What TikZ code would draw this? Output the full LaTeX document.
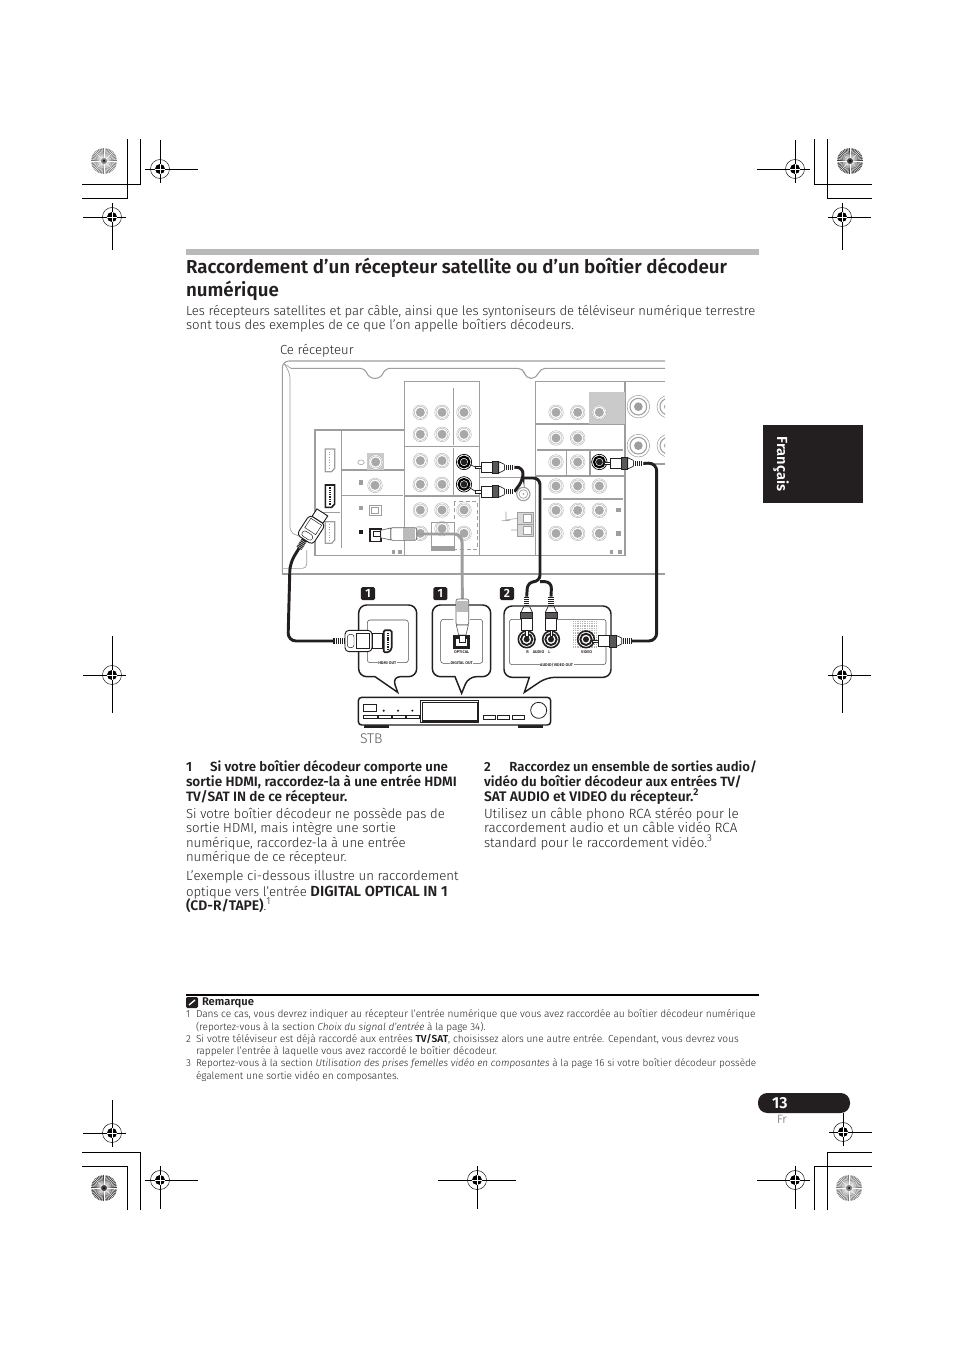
\documentclass[tikz,border=0pt]{standalone}
\usepackage{fontspec}
\setmainfont{Fira Sans Light}[BoldFont={Fira Sans SemiBold},ItalicFont={Fira Sans Light Italic}]
\definecolor{ink}{HTML}{231F20}
\definecolor{pg}{gray}{0.62}
\newcommand\fs[1]{\fontsize{#1}{12}\selectfont}
\tikzset{
  txt/.style={anchor=base west,inner sep=0pt,outer sep=0pt,text=ink},
  body/.style={txt,font=\fs{9.85}},
  bodyb/.style={txt,font=\fs{10.17}\bfseries},
  head/.style={txt,font=\fs{14.05}\bfseries},
  fn/.style={txt,font=\fs{7.6}},
  tiny/.style={inner sep=0.4pt,fill=white,text=ink,font=\fontsize{3}{3}\selectfont\bfseries},
  panel/.style={draw=pg,line width=.8pt},
  cable/.style={draw=ink,line width=2.2pt,rounded corners=6pt},
  crop/.style={draw=black,line width=.65pt},
  bub/.style={draw=ink,line width=1.1pt,fill=white},
  inbr/.style={draw=ink!80,line width=.4pt,rounded corners=2pt},
  dev/.style={draw=ink,line width=.8pt},
  zu/.style={shift={(275,350)},x=.25pt,y=-.25pt},
  zl/.style={shift={(280,580)},x=.25pt,y=-.25pt},
  badge/.style={fill=ink,text=white,rounded corners=1.2pt,minimum width=10.6pt,minimum height=9.8pt,inner sep=0pt,font=\fontsize{9}{9}\selectfont\bfseries},
}
\newcommand\regmark[7]{%
  \draw[crop] ({#2-#4},#3)--({#2+#5},#3) (#2,{#3-#6})--(#2,{#3+#7});
  \draw[line width=.35pt] (#2,#3) circle (9.5);
  \fill[black] (#2,#3) circle (5);
  \draw[white,line width=.3pt] ({#2-5},#3)--({#2+5},#3) (#2,{#3-5})--(#2,{#3+5});
  \coordinate (#1) at (#2,#3);}
\newcommand\wheel[3]{%
  \fill[#3] (#1,#2) circle (13);
  \foreach \a in {0,7.5,...,352.5}{\draw[white,line width=.28pt] ({#1+3*cos(\a)},{#2+3*sin(\a)})--({#1+13*cos(\a)},{#2+13*sin(\a)});}
  \fill[black] (#1,#2) circle (1);}
\newcommand\jack[2]{%
  \draw[pg!85,line width=.3pt,fill=white] (#1,#2) circle (22);
  \draw[pg!85,line width=.3pt] (#1,#2) circle (18);
  \fill[pg!90] (#1,#2) circle (13.5);}
\newcommand\bjack[2]{%
  \draw[black,line width=.5pt,fill=white] (#1,#2) circle (23);
  \draw[black,line width=1.6pt] (#1,#2) circle (16);
  \fill[ink] (#1,#2) circle (10);}
\newcommand\bigjack[2]{%
  \draw[pg,line width=.4pt,fill=white] (#1,#2) circle (34);
  \draw[pg,line width=.8pt] (#1,#2) circle (25);
  \fill[pg] (#1,#2) circle (13);}
\newcommand\rcaplug[3]{%
  \begin{scope}[shift={(#1,#2)},rotate=#3]
    \fill[ink] (0,-8) rectangle (30,8);
    \foreach \h in {4,10,...,28}{\draw[white,line width=.25pt] (\h,-8)--(\h,8);}
    \draw[ink,line width=.5pt,fill=white] (30,-9)--(47,-17)--(47,17)--(30,9)--cycle;
    \draw[ink,line width=.5pt,fill=ink!75] (47,-18) rectangle (66,18);
    \draw[ink,line width=.5pt,fill=white] (66,-16) rectangle (100,16);
    \draw[ink,line width=.4pt,fill=white] (100,-3.5) rectangle (118,3.5);
  \end{scope}}
\newcommand\optplug[3]{%
  \begin{scope}[shift={(#1,#2)},rotate=#3]
    \draw[ink!70,line width=.5pt,fill=white,rounded corners=1.5pt] (0,-19) rectangle (78,19);
    \fill[pg!70] (6,-18) rectangle (40,18);
    \draw[ink!70,line width=.5pt,fill=white] (78,-18)--(108,-11)--(108,11)--(78,18)--cycle;
    \draw[ink,line width=.5pt,fill=white] (108,-8) rectangle (130,8);
  \end{scope}}
\newcommand\hdmiplug[4]{%
  \begin{scope}[shift={(#1,#2)},rotate=#3,scale=#4]
    \fill[ink] (0,-10) rectangle (35,10);
    \foreach \h in {4,10,...,32}{\draw[white,line width=.25pt] (\h,-10)--(\h,10);}
    \draw[ink,line width=.7pt,fill=white,rounded corners=3pt] (35,-32) rectangle (116,32);
    \draw[ink,line width=.35pt,rounded corners=2pt] (42,-20) rectangle (62,20);
    \draw[ink,line width=.35pt] (70,-22) rectangle (108,22);
    \draw[ink,line width=.7pt,fill=white] (116,-22) rectangle (146,22);
  \end{scope}}
\begin{document}
\begin{tikzpicture}[x=.75pt,y=-.75pt]
\useasboundingbox (0,0) rectangle (954,1351);
\fill[white] (0,0) rectangle (954,1351);
% ---------- crop marks
\draw[crop] (82,184)--(140,184)--(140,139) (82,198)--(127,198)--(127,139);
\draw[crop] (872,184)--(814,184)--(814,139) (872,198)--(827,198)--(827,139);
\draw[crop] (82,1152)--(140,1152)--(140,1210) (82,1166)--(127,1166)--(127,1210);
\draw[crop] (872,1152)--(827,1152)--(827,1210) (872,1166)--(814,1166)--(814,1210);
\regmark{r1}{160}{169}{15}{38}{29}{14}
\regmark{r2}{112}{217}{29}{14}{14}{33}
\regmark{r4}{795}{169}{38}{15}{29}{14}
\regmark{r5}{842}{217}{14}{29}{14}{33}
\regmark{r6}{112}{675}{29}{14}{39}{38}
\regmark{r7}{842}{675}{14}{29}{39}{38}
\regmark{r8}{112}{1133}{29}{14}{33}{14}
\regmark{r9}{160}{1180}{15}{38}{14}{29}
\regmark{r10}{477}{1180}{39}{39}{14}{29}
\regmark{r11}{795}{1180}{38}{15}{14}{29}
\regmark{r12}{843}{1132}{14}{29}{19}{14}
\wheel{104}{161}{ink!60}
\wheel{850}{161}{ink!85}
\wheel{104}{1188}{ink!85}
\wheel{849}{1188}{ink!60}
% ---------- header and intro
\fill[gray!55] (186,249) rectangle (759,255);
\node[head] (h1) at (186,274) {Raccordement d’un récepteur satellite ou d’un boîtier décodeur};
\node[head] (h2) at (186,297) {numérique};
\node[body,font=\fs{9.77}] (i1) at (186,316) {Les récepteurs satellites et par câble, ainsi que les syntoniseurs de téléviseur numérique terrestre};
\node[body] (i2) at (186,330) {sont tous des exemples de ce que l’on appelle boîtiers décodeurs.};
\node[body] (ce) at (280,354) {Ce récepteur};
% ---------- tab
\fill[ink] (763,425) rectangle (862.5,502.7);
\node[anchor=center,inner sep=0pt,rotate=-90,text=white,font=\fontsize{11}{12}\selectfont\bfseries] (tab) at (781,464) {Français};
% ---------- receiver panel
\begin{scope}[zu]
  \draw[panel,rounded corners=5pt] (1170,33)--(22,33)--(22,672);
  \draw[panel] (22,672)--(1170,672);
  \draw[panel,line width=.5pt,rounded corners=4pt] (28,42)--(45,70)--(45,548)--(72,558);
  \draw[panel,line width=.5pt,rounded corners=3pt] (95,600)--(95,655)--(22,655);
  \draw[panel,line width=.5pt] (28,42)--(48,55);
  \draw[panel,rounded corners=4pt] (48,55)--(270,55)--(282,85)--(318,85)--(330,55)--(745,55)--(752,85)--(785,85)--(795,55)--(1170,55);
  \draw[panel] (120,240) rectangle (388,616);
  \draw[panel] (388,95) rectangle (614,616);
  \draw[panel] (782,95) rectangle (1050,616);
  \draw[panel] (614,616)--(782,616);
  \draw[panel] (614,383)--(782,383);
  \draw[panel] (1050,95)--(1170,95) (1050,342)--(1170,342);
  \draw[panel] (200,240)--(200,595) (200,360)--(388,360) (200,437)--(384,437) (120,487)--(195,487);
  \draw[panel] (535,115)--(535,285) (388,290)--(614,290) (535,295)--(535,435) (388,438)--(614,438);
  \draw[panel] (782,222)--(1050,222) (786,300)--(1045,300) (875,300)--(875,378) (945,300)--(945,378) (782,378)--(1050,378) (805,447)--(1045,447);
  \fill[pg!55] (942,126) rectangle (1050,222);
  \fill[pg!55] (277,310) rectangle (327,360);
  \foreach \x in {436,501,567}\foreach \y in {187,253}{\jack{\x}{\y}}
  \foreach \x in {436,501}\foreach \y in {332,403}{\jack{\x}{\y}}
  \foreach \x in {436,501,567}{\jack{\x}{480}}
  \jack{436}{550}\jack{501}{536}\jack{567}{550}
  \draw[panel,line width=.5pt] (470,517) rectangle (538,600);
  \fill[pg] (470,588) rectangle (538,600);
  \draw[panel,line width=.5pt,dash pattern=on 3pt off 2pt] (538,455) rectangle (608,598);
  \jack{302}{336}\jack{300}{406}
  \draw[panel,line width=.4pt] (258,337) ellipse (10 and 7);
  \fill[pg] (252,391) rectangle (265,404);
  \fill[pg] (252,467) rectangle (265,480);
  \fill[ink] (252,539) rectangle (265,552);
  \draw[panel,line width=.4pt] (283,465) rectangle (318,497);
  \draw[panel,line width=.4pt] (290,473) rectangle (310,490);
  \fill[pg] (350,600) rectangle (360,611);
  \fill[pg] (370,600) rectangle (380,611);
  % HDMI ports on the receiver
  \draw[panel,line width=.9pt,fill=white] (151,297)--(179,297)--(179,355)--(170,365)--(151,365)--cycle;
  \draw[pg,line width=.9pt,dash pattern=on .8pt off 1.2pt] (164,305)--(164,358);
  \draw[panel,line width=.9pt,fill=white] (151,515)--(179,515)--(179,570)--(170,580)--(151,580)--cycle;
  \draw[pg,line width=.9pt,dash pattern=on .8pt off 1.2pt] (164,522)--(164,573);
  \draw[ink,line width=1.2pt,fill=white] (151,405)--(179,405)--(179,462)--(170,472)--(151,472)--cycle;
  \draw[ink,line width=1.4pt,dash pattern=on 1pt off .7pt] (165,412)--(165,465);
  % optical port in use
  \draw[ink,line width=1pt,fill=white] (285,537) rectangle (318,575);
  % jacks, right block
  \foreach \x in {843,908,973}{\jack{\x}{187}}
  \foreach \x in {843,908}{\jack{\x}{264}\jack{\x}{336}}
  \foreach \x in {843,908,973}{\jack{\x}{408}\jack{\x}{481}\jack{\x}{550}}
  \fill[pg] (1024,474) rectangle (1037,487);
  \fill[pg] (1024,544) rectangle (1037,557);
  \fill[pg] (1004,600) rectangle (1015,611);
  \fill[pg] (1030,600) rectangle (1041,611);
  \bigjack{1090}{170}\bigjack{1090}{287}
  \begin{scope}
    \clip (1050,90) rectangle (1170,340);
    \bigjack{1180}{170}\bigjack{1180}{287}
  \end{scope}
  \draw[panel,fill=white] (745,432) circle (20);
  \draw[panel,line width=.5pt] (745,432) circle (13);
  \fill[pg] (745,432) circle (3);
  \draw[panel,line width=.7pt,fill=pg!40] (728,487) rectangle (775,522);
  \draw[panel,line width=.7pt,fill=pg!40] (728,522) rectangle (775,560);
  \draw[panel,line width=.4pt,fill=white] (746,494) rectangle (768,516);
  \draw[panel,line width=.4pt,fill=white] (746,530) rectangle (768,552);
  \draw[panel,line width=.4pt] (728,505)--(693,510) (693,485)--(693,512) (680,512)--(705,512) (728,540)--(708,540);
  \bjack{567}{336}\bjack{567}{403}\bjack{973}{336}
  \coordinate (rcaR) at (567,336);
  \coordinate (rcaL) at (567,403);
  \coordinate (vidIn) at (973,336);
  \coordinate (rpu) at (718,352);
  \coordinate (lpu) at (718,425);
  \coordinate (vpu) at (1105,340);
  \coordinate (hpu) at (72,595);
  \coordinate (opu) at (425,552);
\end{scope}
\begin{scope}[zl]
  \draw[bub,rounded corners=6pt] (337,290)[sharp corners]--(353,337)--(285,290)[rounded corners=6pt]--(236,290)--(236,75)--(410,75)--(410,290)--cycle;
  \draw[bub,rounded corners=6pt] (565,290)[sharp corners]--(545,340)--(525,290)[rounded corners=6pt]--(457,290)--(457,75)--(632,75)--(632,290)--cycle;
  \draw[bub,rounded corners=6pt] (800,292)[sharp corners]--(733,337)--(748,292)[rounded corners=6pt]--(672,292)--(672,78)--(993,78)--(993,292)--cycle;
  \draw[inbr] (262,170)--(262,120)--(385,120)--(385,248)--(262,248)--(262,215);
  \draw[inbr] (520,118)--(482,118)--(482,250)--(608,250)--(608,118)--(570,118);
  \draw[inbr] (725,118)--(688,118)--(688,254)--(978,254)--(978,118)--(830,118);
  \node[tiny] (lhdmi) at (322,248) {HDMI OUT};
  \node[tiny] (ldig) at (545,250) {DIGITAL OUT};
  \node[tiny] (lavo) at (830,254) {AUDIO/VIDEO OUT};
  \node[tiny] (lopt) at (545,216) {OPTICAL};
  \node[tiny] (lral) at (775,216) {R\hspace{3pt}AUDIO\hspace{3pt}L};
  \node[tiny] (lvid) at (920,216) {VIDEO};
  \fill[pg!75] (878,122) rectangle (955,208);
  \foreach \d in {126,133,...,206}{\draw[white,line width=.18pt] (878,\d)--(955,\d);}
  \foreach \d in {882,889,...,953}{\draw[white,line width=.18pt] (\d,122)--(\d,208);}
  \draw[ink,line width=1.3pt,fill=white,rounded corners=1pt] (311,151)--(335,151)--(335,206)--(326,217)--(311,217)--cycle;
  \draw[ink,line width=1.6pt,dash pattern=on 1pt off .7pt] (323,158)--(323,208);
  \fill[ink] (519,165) rectangle (570,206);
  \fill[white] (528,178) rectangle (561,198);
  \foreach \p/\n in {740/jR,813/jL,918/jV}{
    \draw[ink,line width=1.2pt,fill=white] (\p,178) circle (25);
    \draw[ink,line width=1.4pt] (\p,178) circle (17);
    \fill[ink] (\p,178) circle (9);
    \coordinate (\n) at (\p,178);
  }
  \fill[ink] (253,435) rectangle (326,444);
  \fill[ink] (714,435) rectangle (788,444);
  \draw[dev,line width=1.1pt,fill=white,rounded corners=2.5pt] (235,352) rectangle (812,435);
  \draw[dev,line width=.35pt] (420,362) rectangle (596,428);
  \draw[dev,line width=1pt] (427,367) rectangle (592,423);
  \draw[dev,line width=.6pt] (251,372) rectangle (289,393);
  \foreach \a/\b in {251/291,295/333,337/375,379/417}{\draw[dev,line width=.6pt] (\a,407) rectangle (\b,415);}
  \foreach \a in {311,354,397}{\fill[ink] (\a,392) circle (3.5);}
  \foreach \a/\b in {609/645,652/688,697/733}{\draw[dev,line width=.6pt] (\a,406) rectangle (\b,418);}
  \draw[dev,line width=.6pt] (776,391) circle (24);
  \node[badge] (b1) at (264,41) {1};
  \node[badge] (b2) at (481,41) {1};
  \node[badge] (b3) at (681,41) {2};
  \node[txt,text=ink!75,font=\fontsize{10.5}{12}\selectfont] (stb) at (240,490) {STB};
  \coordinate (rpl) at (740,50);
  \coordinate (lpl) at (813,50);
  \coordinate (vpl) at (1055,183);
  \coordinate (hpl) at (160,183);
  \coordinate (opl) at (547,57);
\end{scope}
% ---------- cables
\draw[cable] (hpu)--(290,563)--(288,641)--(hpl);
\draw[draw=pg,line width=2.2pt,rounded corners=6pt] (opu)--(462,534)--(opl);
\draw[cable,rounded corners=5pt] (rpu)--(523,467)--(523,480)--(lpu);
\draw[cable,rounded corners=5pt] (523,478)--(540,478)--(540,581.7)--(527.7,581.7)--(rpl);
\draw[cable,rounded corners=5pt] (540,581.7)--(551.7,581.7)--(lpl);
\draw[cable] (vpu)--(656.7,463)--(656.7,641)--(vpl);
% ---------- plugs and pins
\begin{scope}[zu]
  \draw[ink,line width=.5pt] (rcaR)--(603,352) (rcaL)--(603,425) (vidIn)--(990,340);
  \rcaplug{718}{352}{180}
  \rcaplug{718}{425}{180}
  \rcaplug{1105}{340}{180}
  \optplug{425}{552}{180}
  \hdmiplug{72}{595}{57}{.88}
\end{scope}
\begin{scope}[zl]
  \rcaplug{740}{50}{-90}
  \rcaplug{813}{50}{-90}
  \rcaplug{1055}{183}{180}
  \optplug{547}{57}{-90}
  \hdmiplug{160}{183}{0}{1}
\end{scope}
% ---------- columns
\node[bodyb,font=\fs{9.96}\bfseries] (c1a) at (186,771) {1\hspace{13.5pt}Si votre boîtier décodeur comporte une};
\node[bodyb] (c1b) at (186,786) {sortie HDMI, raccordez-la à une entrée HDMI};
\node[bodyb] (c1c) at (186,801) {TV/SAT IN de ce récepteur.};
\node[body] (c1d) at (186,818) {Si votre boîtier décodeur ne possède pas de};
\node[body] (c1e) at (186,832) {sortie HDMI, mais intègre une sortie};
\node[body] (c1f) at (186,847) {numérique, raccordez-la à une entrée};
\node[body] (c1g) at (186,861) {numérique de ce récepteur.};
\node[body,font=\fs{9.9}] (c1h) at (186,880) {L’exemple ci-dessous illustre un raccordement};
\node[body] (c1i) at (186,896) {optique vers l’entrée {\fs{11}\bfseries DIGITAL OPTICAL IN 1}};
\node[body] (c1j) at (186,910) {{\fs{10.4}\bfseries (CD-R/TAPE)}.\raisebox{4.5pt}{\fontsize{7.5}{8}\selectfont 1}};
\node[bodyb,font=\fs{9.85}\bfseries] (c2a) at (484,771) {2\hspace{14pt}Raccordez un ensemble de sorties audio/};
\node[bodyb,font=\fs{10.05}\bfseries] (c2b) at (484,786) {vidéo du boîtier décodeur aux entrées TV/};
\node[bodyb,font=\fs{10.4}\bfseries] (c2c) at (484,801) {SAT AUDIO et VIDEO du récepteur.\raisebox{4.5pt}{\fontsize{7.5}{8}\selectfont 2}};
\node[body,font=\fs{10.04}] (c2d) at (484,818) {Utilisez un câble phono RCA stéréo pour le};
\node[body,font=\fs{10.05}] (c2e) at (484,832) {raccordement audio et un câble vidéo RCA};
\node[body,font=\fs{9.98}] (c2f) at (484,847) {standard pour le raccordement vidéo.\raisebox{4.5pt}{\fontsize{7.5}{8}\selectfont 3}};
% ---------- notes
\fill[black] (186,994) rectangle (759,996);
\fill[ink,rounded corners=1pt] (186,997) rectangle (198,1008);
\draw[white,line width=1pt] (189,1005)--(195,1000);
\node[fn,font=\fs{8.4}\bfseries] (rem) at (202,1005) {Remarque};
\node[fn] (n1) at (186,1017) {1};
\node[fn] (n1a) at (196,1017) {Dans ce cas, vous devrez indiquer au récepteur l’entrée numérique que vous avez raccordée au boîtier décodeur numérique};
\node[fn,font=\fs{7.5}] (n1b) at (196,1030) {(reportez-vous à la section \textit{Choix du signal d’entrée} à la page 34).};
\node[fn] (n2) at (186,1042) {2};
\node[fn] (n2a) at (196,1042) {Si votre téléviseur est déjà raccordé aux entrées \textbf{TV/SAT}, choisissez alors une autre entrée. Cependant, vous devrez vous};
\node[fn] (n2b) at (196,1054) {rappeler l’entrée à laquelle vous avez raccordé le boîtier décodeur.};
\node[fn] (n3) at (186,1066) {3};
\node[fn,font=\fs{7.45}] (n3a) at (196,1066) {Reportez-vous à la section \textit{Utilisation des prises femelles vidéo en composantes} à la page 16 si votre boîtier décodeur possède};
\node[fn] (n3b) at (196,1079) {également une sortie vidéo en composantes.};
% ---------- page number
\fill[ink,rounded corners=7pt] (758,1093) rectangle (850,1113);
\node[txt,text=white,font=\fontsize{12}{12}\selectfont\bfseries] (pn) at (772,1108) {13};
\node[txt,text=ink!70,font=\fontsize{9}{9}\selectfont] (fr) at (777,1123) {Fr};
\end{tikzpicture}
\end{document}
